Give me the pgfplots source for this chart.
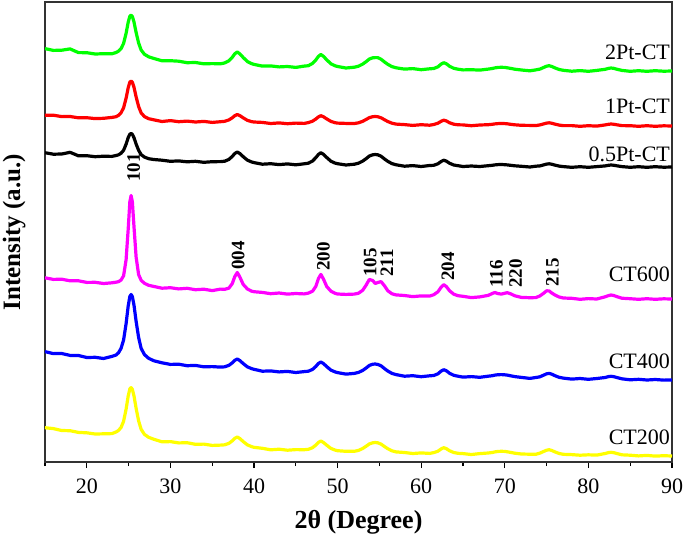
\documentclass[border=0pt]{standalone}
\usepackage{fontspec}
\setmainfont{Liberation Serif}
\usepackage{pgfplots}
\pgfplotsset{compat=1.18}
\usepackage{pgfplotstable}
\definecolor{xgreen}{RGB}{0,255,0}
\definecolor{xred}{RGB}{255,0,0}
\definecolor{xblack}{RGB}{0,0,0}
\definecolor{xmag}{RGB}{255,0,255}
\definecolor{xblue}{RGB}{0,0,255}
\definecolor{xyel}{RGB}{255,255,0}
% y values are pixel rows from the top of the reference (axis y reversed)
\pgfplotstableread{
x G R K M B Y
15 48.6 115.2 152.7 277.8 351.6 427.7
16 50.4 115.2 154.2 279.4 353.6 428.6
17 50.2 116.6 154 279.2 353.5 430.5
18 48.9 116.5 152.3 280.8 355.4 430.7
19 52.6 117.8 155.8 280.8 355.5 432.4
20 52.7 117.7 155.7 282.4 357.5 432.8
21 54 118.6 156.7 282.3 357.3 434
22 53.7 118.3 156.2 283.5 358.5 433.8
23 53.8 117.4 156.4 282.8 356.4 433.6
23.5 52.5 116.7 155.5 282.2 355 432
23.8 51.1 115.3 154.8 281.6 352.7 430.4
24.1 48.6 112.7 153.2 280 348.3 427.4
24.4 43.4 107.8 150.3 275.8 340 421.3
24.7 33.3 98.2 144.2 259.8 323.7 409.2
24.95 22.3 87.8 137.7 229.4 306.1 396.1
25.15 16.2 82.1 134.1 201.7 296.4 388.9
25.3 15.1 81 133.5 195.5 294.5 387.6
25.45 16.5 82.3 134.3 201.9 296.6 389.3
25.65 22.1 87.4 137.8 227.3 305.4 396.1
25.9 32.5 96.9 144 257.2 321.4 408.4
26.2 43 106.5 150.3 274.6 337.5 420.9
26.5 50 112.9 154.6 280.3 348.4 429.3
26.9 54.3 116.6 157.1 283.3 354.6 434.4
27.4 56.8 118.7 158.7 285.3 358.3 437.3
28 58.4 119.8 159.5 286.4 360.7 439.2
29 60.8 121.5 160.2 288.2 362.8 441.8
30 60.7 120.6 161.3 287.7 364.4 441.6
31 61.2 121.7 160.9 288.9 364.2 442.9
32 62.7 121.1 161.8 288.3 365.7 442.7
33 62.5 122 161.3 289.7 365.4 444.3
34 63.8 121.4 162.3 289.2 366.8 444.1
35 63.6 122.4 161.7 290.6 366.6 445.4
36 63.8 121.7 161.6 289.1 367.1 445.1
36.5 62.9 121.3 161.2 289.3 366.8 444.8
37.0 60.8 119.9 159.4 288.1 365.3 443.3
37.4 57.3 117.8 156.4 283.6 362.8 440.8
37.7 53.8 115.7 153.5 276.6 360.3 438.3
38.0 52 114.5 152 272.5 359 437
38.3 53.8 115.6 153.5 276.9 360.5 438.5
38.7 57.4 117.8 156.6 284.3 363.5 441.5
39.2 61.5 120.3 160.1 288.9 366.8 444.8
39.7 63.6 121.6 161.9 291.1 368.6 446.6
40 64.4 122 162.6 291.7 369.3 447.3
41 66.1 122.4 164.2 292.4 371.2 448.3
42 65.9 123.5 163.7 293.7 370.9 449.8
43 66.9 122.9 164.6 293 371.9 449.2
44 66.5 123.7 163.9 294.1 371.4 450.2
45 67.4 123.1 164.8 293.5 372.5 449.6
46 66.1 123.4 163.8 293.9 371.6 449.7
46.5 65.7 122.6 163.2 293.1 371.2 449.3
47.0 63.4 121.2 161 291.2 369.4 447.7
47.4 59.9 119 157.6 286.3 366.4 445
47.7 56.4 116.9 154.5 278.7 363.5 442.4
48.0 54.5 115.7 152.7 274.4 362 441
48.3 56.3 116.7 154.3 278.9 363.5 442.4
48.7 59.8 118.9 157.5 286.5 366.6 445.2
49.2 63.8 121.4 161.2 291.2 370.1 448.4
49.7 65.8 122.7 163.1 293.3 371.9 450.1
50 66.5 123.1 163.7 294 372.6 450.7
51 68 123.4 165 294.4 374.1 451.3
52 67.2 123.5 164.2 294.1 373.4 451.3
52.5 66.2 122.8 163.2 293.2 372.4 450.4
53.0 64.1 121.3 161.1 290.3 370.4 448.5
53.4 61.7 119.5 158.7 285.3 368.1 446.3
53.8 59 117.6 156 279.4 365.4 443.9
54.2 57.8 116.7 154.8 280.5 364.2 442.8
54.5 57.6 116.5 154.5 283.5 364 442.5
54.8 57.6 116.7 154.8 282.5 364.4 442.8
55.2 59.2 117.8 156.2 281.6 365.8 444.1
55.6 61.9 119.7 158.9 285.7 368.5 446.5
56.0 64.3 121.5 161.3 290.7 371 448.7
56.5 66.6 123.2 163.6 293.8 373.4 450.8
57.0 67.8 124.1 164.8 294.9 374.6 451.9
58 69.1 124.6 166.2 295.5 376.2 452.5
59 68.6 125.4 165.6 296.6 375.7 453.5
60 69.7 124.7 166.5 295.9 376.7 452.9
61 68.8 125.2 165.5 296.1 375.8 453.4
61.5 68.5 124.5 165.3 294.7 375.5 452.6
62.0 66.8 123.2 163.8 291.8 373.8 451.2
62.4 64 121.2 161.4 287 371 448.8
62.7 62.7 120.2 160.2 284.7 369.7 447.7
63.0 63.7 120.9 161.1 286.5 370.7 448.6
63.4 66.3 122.8 163.3 290.8 373.3 450.8
63.9 68.3 124.2 165 294.2 375.3 452.5
64.4 69.2 124.8 165.7 295.7 376.2 453.3
65 69.9 124.9 166.5 296.3 377.1 453.6
66 69.7 125.7 166 297.6 376.6 454.5
67 70.1 125 166.5 296.9 377.3 453.6
68.0 69.1 124.7 165.7 295.4 376.2 453
68.5 68.5 124.3 165.3 293.5 375.7 452.5
68.8 67.9 123.9 164.9 292.5 375.1 451.9
69.2 67.4 123.6 164.6 293.6 374.7 451.4
69.6 67.3 123.5 164.5 294.1 374.6 451.3
70.0 67.4 123.6 164.7 293.2 374.8 451.4
70.3 67.8 123.8 164.9 292.7 375.1 451.8
70.7 68.4 124.3 165.3 293.8 375.8 452.4
71.2 69.2 124.8 165.8 295.8 376.6 453.2
72 70 125.3 166.3 297.4 377.4 454
73 70.8 125.4 167 297.7 378.4 454.2
73.7 69.9 125.6 166.2 297.6 377.5 454.3
74.2 69.1 124.9 165.9 295.9 376.8 453.1
74.6 67.6 124 165 293.5 375.3 451.6
75.0 66.2 123.1 164.1 290.8 373.8 450.2
75.3 65.7 122.8 163.8 290.9 373.4 449.7
75.6 66.4 123.2 164.2 292.9 374.1 450.4
76.0 67.9 124.1 165.1 295 375.7 451.9
76.5 69.5 125.1 166.1 297 377.3 453.5
77 70.3 125.6 166.6 298 378.1 454.3
78 71.2 125.6 167.3 298.3 379.1 454.6
79 70.6 126.3 166.7 299.3 378.5 455.2
80 71.3 125.7 167.3 298.6 379.3 454.8
81 70.4 126.1 166.6 299 378.5 455.1
82.0 69.3 124.9 165.9 296.8 377.5 453.5
82.4 68.4 124.3 165.3 295.6 376.6 452.6
82.7 68 124 165 295 376.3 452.3
83.0 68.3 124.2 165.2 295.4 376.6 452.6
83.4 69.2 124.8 165.8 296.6 377.5 453.5
84 70.4 125.6 166.6 298.2 378.8 454.8
85 71.3 125.7 167.3 298.7 379.8 455.2
86 70.7 126.3 166.7 299.3 379.3 455.9
87 71.3 125.7 167.3 298.7 380 455.4
88 70.7 126.3 166.7 299.3 379.5 456.1
89 71.2 125.8 167.2 298.8 380.1 455.7
90 71 126 167 299 380 456
}\xrd

\begin{document}
\begin{tikzpicture}
\begin{axis}[
  at={(0,0)}, anchor=south west,
  scale only axis, width=313.5pt, height=230pt,
  xmin=15, xmax=90, ymin=2, ymax=462, y dir=reverse,
  xtick={20,30,...,90}, minor xtick={15,25,...,85},
  ytick=\empty,
  tick align=outside, xtick pos=lower,
  major tick length=3pt, minor tick length=2pt,
  every tick/.style={black, line width=0.6pt},
  axis line style={line width=0.7pt, draw=black!80},
  /pgf/number format/assume math mode=true,
  xticklabel style={font=\fontsize{11}{12}\selectfont, yshift=-2pt},
  xlabel={\textbf{2θ (Degree)}},
  ylabel={\textbf{Intensity (a.u.)}},
  every axis x label/.style={at={(axis description cs:0.5,-0.1304)}, anchor=center, font=\fontsize{13}{15}\selectfont},
  every axis y label/.style={at={(axis description cs:-0.0494,0.5)}, rotate=90, anchor=center, font=\fontsize{12.5}{15}\selectfont},
  clip=false,
  every axis plot/.append style={no marks, line width=1.6pt, line join=round},
]
\addplot[xyel] table[x=x,y=Y]{\xrd};
\addplot[xblue] table[x=x,y=B]{\xrd};
\addplot[xmag] table[x=x,y=M]{\xrd};
\addplot[xblack] table[x=x,y=K]{\xrd};
\addplot[xred] table[x=x,y=R]{\xrd};
\addplot[xgreen] table[x=x,y=G]{\xrd};

\tikzset{slab/.style={anchor=east, inner sep=0pt, font=\fontsize{11}{12}\selectfont},
         plab/.style={rotate=90, anchor=west, inner sep=0pt, font=\bfseries\fontsize{9.5}{10}\selectfont}}
\node[slab] at (axis cs:89.8,52) {2Pt-CT};
\node[slab] at (axis cs:89.8,106) {1Pt-CT};
\node[slab] at (axis cs:89.8,154) {0.5Pt-CT};
\node[slab] at (axis cs:89.8,274) {CT600};
\node[slab] at (axis cs:89.8,361) {CT400};
\node[slab] at (axis cs:89.8,437) {CT200};

\node[plab] at (axis cs:25.6,182) {101};
\node[plab] at (axis cs:38.1,270) {004};
\node[plab] at (axis cs:48.3,271) {200};
\node[plab] at (axis cs:53.9,277) {105};
\node[plab] at (axis cs:55.9,277) {211};
\node[plab] at (axis cs:63.2,281) {204};
\node[plab] at (axis cs:69.0,288) {116};
\node[plab] at (axis cs:71.3,288) {220};
\node[plab] at (axis cs:75.7,287) {215};
\end{axis}
\pgfresetboundingbox
\path[use as bounding box] (-22.5pt,-37.5pt) rectangle (320pt,231pt);
\end{tikzpicture}
\end{document}
